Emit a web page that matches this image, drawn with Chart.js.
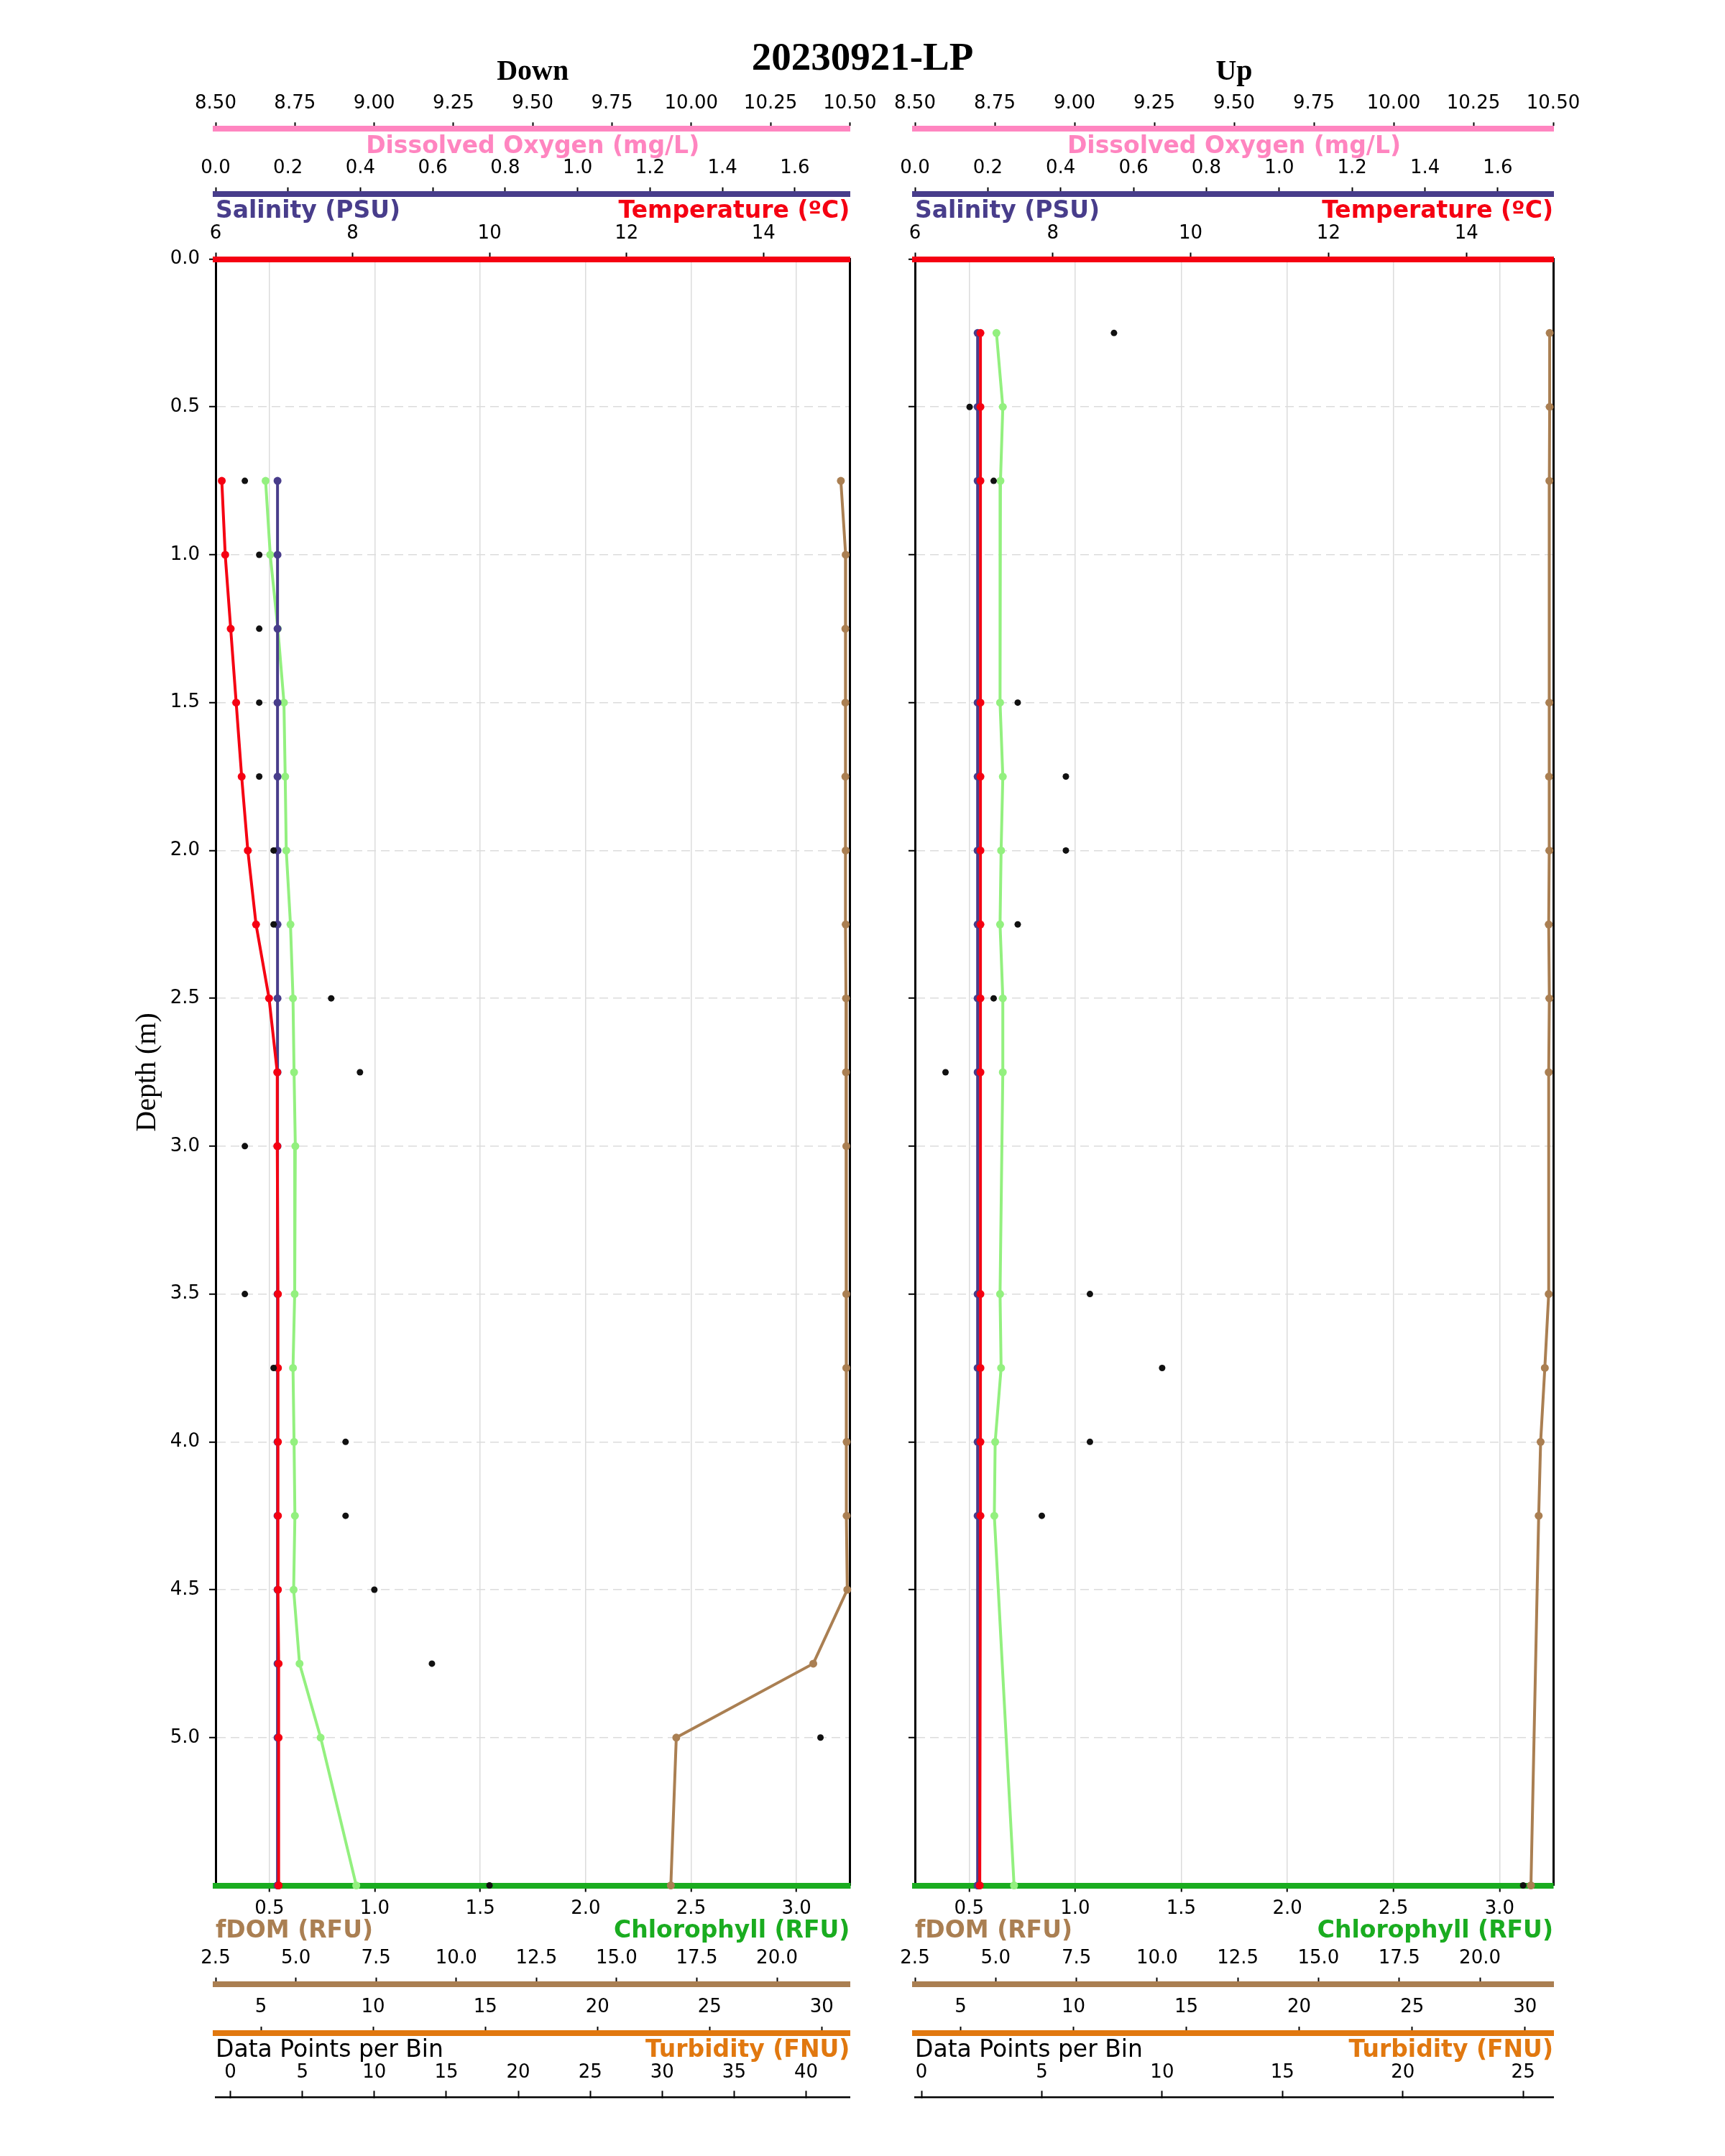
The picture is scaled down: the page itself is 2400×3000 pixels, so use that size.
<!DOCTYPE html>
<html>
<head>
<meta charset="utf-8">
<script src="https://cdn.jsdelivr.net/npm/chart.js@4.4.1/dist/chart.umd.min.js"></script>
<style>
  body { margin: 0; background: #fff; }
  #page { position: relative; width: 2400px; height: 3000px; }
  canvas { position: absolute; top: 0; }
  #suptitle {
    position: absolute; left: 0; top: 51px; width: 2400px; text-align: center;
    font: bold 55px/55px "Liberation Serif", serif; color: #000; z-index: 2;
  }
</style>
</head>
<body>
<div id="page">
  <div id="suptitle">20230921-LP</div>
  <canvas id="down" width="1230" height="3000" style="left:0"></canvas>
  <canvas id="up" width="1170" height="3000" style="left:1230px"></canvas>
</div>
<script>
// ---- data ----
const downDepth = [0.75, 1.0, 1.25, 1.5, 1.75, 2.0, 2.25, 2.5, 2.75, 3.0, 3.5, 3.75, 4.0, 4.25, 4.5, 4.75, 5.0, 5.5];
const downTemp  = [6.09, 6.14, 6.22, 6.30, 6.38, 6.47, 6.59, 6.78, 6.90, 6.90, 6.91, 6.91, 6.91, 6.91, 6.91, 6.92, 6.92, 6.92];
const downSal   = [0.171, 0.171, 0.171, 0.171, 0.171, 0.171, 0.171, 0.171, 0.171, 0.171, 0.171, 0.171, 0.171, 0.171, 0.171, 0.171, 0.171, 0.171];
const downChl   = [0.482, 0.504, 0.540, 0.569, 0.575, 0.580, 0.600, 0.612, 0.617, 0.623, 0.620, 0.612, 0.617, 0.621, 0.615, 0.643, 0.743, 0.912];
const downFdom  = [21.99, 22.14, 22.13, 22.13, 22.13, 22.14, 22.14, 22.15, 22.15, 22.16, 22.16, 22.16, 22.17, 22.17, 22.19, 21.13, 16.86, 16.69];
const downCount = [1, 2, 2, 2, 2, 3, 3, 7, 9, 1, 1, 3, 8, 8, 10, 14, 41, 18];

const upDepth = [0.25, 0.5, 0.75, 1.5, 1.75, 2.0, 2.25, 2.5, 2.75, 3.5, 3.75, 4.0, 4.25, 5.5];
const upTemp  = [6.95, 6.95, 6.95, 6.95, 6.95, 6.95, 6.95, 6.95, 6.95, 6.95, 6.95, 6.95, 6.95, 6.94];
const upSal   = [0.172, 0.172, 0.172, 0.172, 0.172, 0.172, 0.172, 0.172, 0.172, 0.172, 0.172, 0.172, 0.172, 0.172];
const upChl   = [0.629, 0.659, 0.648, 0.646, 0.659, 0.651, 0.646, 0.659, 0.659, 0.646, 0.651, 0.623, 0.619, 0.712];
const upFdom  = [22.16, 22.16, 22.15, 22.15, 22.14, 22.15, 22.13, 22.15, 22.13, 22.13, 22.01, 21.88, 21.82, 21.58];
const upCount = [8, 2, 3, 4, 6, 6, 4, 3, 1, 7, 10, 7, 5, 25];

// axis limits
const depthRange = [0, 5.5];
const doRange    = [8.5, 10.5];
const salRange   = [0, 1.752];
const tempRange  = [6, 15.26];
const chlRange   = [0.245, 3.253];
const fdomRange  = [2.5, 22.27];
const turbRange  = [2.98, 31.25];
const downCountRange = [-1.03, 43.04];
const upCountRange   = [-0.27, 26.25];

const C = {
  do: '#ff85c0', sal: '#483d8b', temp: '#f50012', chlAxis: '#1aac20',
  chlLine: '#93f07f', fdom: '#aa7f52', turb: '#e1780f', grid: '#dcdcdc'
};

Chart.defaults.font.family = 'DejaVu Sans';
const tickFont = {family: 'DejaVu Sans', size: 26};
const capFont = {family: 'DejaVu Sans', size: 33, weight: 'bold'};

// labels that matplotlib puts on the far side of their axis line
function captionPlugin(items) {
  return {
    id: 'sideCaptions',
    afterDraw(chart) {
      const {ctx, chartArea} = chart;
      items.forEach(c => {
        const s = chart.scales[c.scale];
        const edge = s.options.position === 'top' ? s.bottom : s.top;
        let x = (chartArea.left + chartArea.right) / 2, align = 'center';
        if (c.align === 'start') { x = chartArea.left; align = 'left'; }
        if (c.align === 'end') { x = chartArea.right; align = 'right'; }
        ctx.save();
        ctx.font = (c.bold ? 'bold ' : '') + '33px "DejaVu Sans"';
        ctx.fillStyle = c.color;
        ctx.textAlign = align;
        ctx.textBaseline = 'middle';
        ctx.fillText(c.text, x, edge + c.dy);
        ctx.restore();
      });
    }
  };
}

function hAxis(o) {
  return {
    type: 'linear', axis: 'x', position: o.pos, weight: o.weight,
    min: o.range[0], max: o.range[1],
    border: {color: o.color, width: o.width},
    grid: o.gridOn
      ? {color: C.grid, lineWidth: 1.5, tickLength: o.tl, tickColor: '#000', tickWidth: 2, z: -1}
      : {drawOnChartArea: false, tickLength: o.tl, tickColor: '#000', tickWidth: 2},
    ticks: {
      stepSize: o.step, includeBounds: false, autoSkip: false, maxRotation: 0,
      mirror: !!o.mirror, padding: o.pad, color: '#000', font: tickFont,
      callback: v => v.toFixed(o.digits)
    },
    title: o.title || {display: false},
    afterFit: s => { s.height = o.h; }
  };
}

function profileChart(id, panel, depth, temp, sal, chl, fdom, count, countRange, left) {
  const pts = xs => depth.map((d, i) => ({x: xs[i], y: d}));
  const line = (label, xs, axis, color) => ({
    label, data: pts(xs), xAxisID: axis, yAxisID: 'y', showLine: true,
    borderColor: color, backgroundColor: color, borderWidth: 4,
    pointRadius: 5.5, pointBorderWidth: 0, clip: false
  });

  const dash = [12, 7];
  return new Chart(document.getElementById(id), {
    type: 'scatter',
    data: {
      datasets: [
        {label: 'Data Points per Bin', data: pts(count), xAxisID: 'xCount', yAxisID: 'y',
         showLine: false, backgroundColor: '#111', borderColor: '#111',
         pointRadius: 4.5, pointBorderWidth: 0, clip: false},
        line('Temperature', temp, 'xTemp', C.temp),
        line('Salinity', sal, 'xSal', C.sal),
        line('Chlorophyll', chl, 'xChl', C.chlLine),
        line('fDOM', fdom, 'xFdom', C.fdom)
      ]
    },
    options: {
      responsive: false,
      animation: false,
      devicePixelRatio: 1,
      layout: {padding: left ? {left: 0, right: 43, top: 0, bottom: 60} : {left: 31, right: 239, top: 0, bottom: 60}},
      plugins: {
        legend: {display: false},
        tooltip: {enabled: false},
        title: {
          display: true, text: panel, color: '#000', fullSize: false,
          font: {family: 'Liberation Serif', size: 40, weight: 'bold'},
          padding: {top: 77, bottom: 0}
        }
      },
      scales: {
        y: {
          type: 'linear', axis: 'y', position: 'left', reverse: true,
          min: depthRange[0], max: depthRange[1],
          afterBuildTicks: s => { s.ticks = s.ticks.filter(t => t.value <= 5.001); },
          afterFit: s => { s.width = left ? 300 : 12; },
          border: {color: '#000', width: 3, dash: dash},
          grid: {color: C.grid, lineWidth: 1.5, tickLength: 9, tickColor: '#000', tickWidth: 2, z: -1},
          ticks: {display: left, stepSize: 0.5, padding: 13, color: '#000', font: tickFont,
                  callback: v => v.toFixed(1)},
          title: {display: left, text: 'Depth (m)', color: '#000',
                  font: {family: 'Liberation Serif', size: 40}, padding: {top: 181, bottom: 0}}
        },
        yRight: {
          type: 'linear', axis: 'y', position: 'right', reverse: true,
          min: depthRange[0], max: depthRange[1],
          grid: {display: false, drawTicks: false}, ticks: {display: false},
          border: {color: '#000', width: 3},
          afterFit: s => { s.width = 0; }
        },
        // top axes, outermost first
        xDO: hAxis({pos: 'top', weight: 3, range: doRange, step: 0.25, digits: 2,
                    color: C.do, width: 8, tl: 9, pad: 10.4, h: 54.3}),
        xSal: hAxis({pos: 'top', weight: 2, range: salRange, step: 0.2, digits: 1,
                     color: C.sal, width: 8, tl: 9, pad: 10.4, h: 90.4}),
        xTemp: hAxis({pos: 'top', weight: 1, range: tempRange, step: 2, digits: 0,
                      color: C.temp, width: 8, tl: 9, pad: 10.4, h: 90.8,
                      title: {display: true, text: 'Temperature (ºC)', align: 'end', color: C.temp,
                              font: capFont, padding: {top: 4.8, bottom: 0}}}),
        // bottom axes, innermost first
        xChl: hAxis({pos: 'bottom', weight: 1, range: chlRange, step: 0.5, digits: 1,
                     color: C.chlAxis, width: 8, tl: 9, pad: 7.9, h: 137.2, gridOn: true,
                     title: {display: true, text: 'Chlorophyll (RFU)', align: 'end', color: C.chlAxis,
                             font: capFont, padding: {top: 0, bottom: 53.6}}}),
        xFdom: hAxis({pos: 'bottom', weight: 2, range: fdomRange, step: 2.5, digits: 1,
                      color: C.fdom, width: 8, tl: -9, pad: 19.9, mirror: true, h: 68.3}),
        xTurb: hAxis({pos: 'bottom', weight: 3, range: turbRange, step: 5, digits: 0,
                      color: C.turb, width: 8, tl: -9, pad: 19.9, mirror: true, h: 89.3,
                      title: {display: true, text: 'Turbidity (FNU)', align: 'end', color: C.turb,
                              font: capFont, padding: {top: 0, bottom: 45.2}}}),
        xCount: hAxis({pos: 'bottom', weight: 4, range: countRange, step: 5, digits: 0,
                       color: '#000', width: 2.5, tl: -9, pad: 18.9, mirror: true, h: 21.7})
      }
    },
    plugins: [captionPlugin([
      {scale: 'xDO', text: 'Dissolved Oxygen (mg/L)', color: C.do, bold: true, align: 'center', dy: 25},
      {scale: 'xSal', text: 'Salinity (PSU)', color: C.sal, bold: true, align: 'start', dy: 24.6},
      {scale: 'xFdom', text: 'fDOM (RFU)', color: C.fdom, bold: true, align: 'start', dy: -73.4},
      {scale: 'xCount', text: 'Data Points per Bin', color: '#000', bold: false, align: 'start', dy: -65}
    ])]
  });
}

profileChart('down', 'Down', downDepth, downTemp, downSal, downChl, downFdom, downCount, downCountRange, true);
profileChart('up', 'Up', upDepth, upTemp, upSal, upChl, upFdom, upCount, upCountRange, false);
</script>
</body>
</html>
